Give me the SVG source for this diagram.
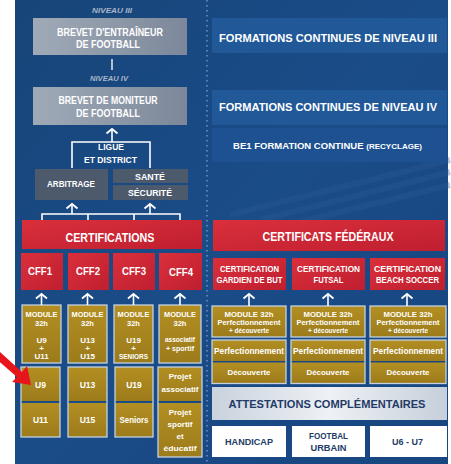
<svg xmlns="http://www.w3.org/2000/svg" width="451" height="464" viewBox="0 0 451 464">
<defs>
<linearGradient id="gPanel" x1="0" y1="0" x2="1" y2="1">
<stop offset="0" stop-color="#174579"/><stop offset="0.5" stop-color="#1a4c88"/><stop offset="1" stop-color="#174680"/>
</linearGradient>
<linearGradient id="gGrey" x1="0" y1="0" x2="1" y2="0">
<stop offset="0" stop-color="#a0aab7"/><stop offset="1" stop-color="#7c889a"/>
</linearGradient>
<linearGradient id="gRed" x1="0" y1="0" x2="1" y2="1">
<stop offset="0" stop-color="#da2f3b"/><stop offset="1" stop-color="#bf1f30"/>
</linearGradient>
<linearGradient id="gGold" x1="0" y1="0" x2="0" y2="1">
<stop offset="0" stop-color="#b38f22"/><stop offset="1" stop-color="#9c7b1b"/>
</linearGradient>
<linearGradient id="gAtt" x1="0" y1="0" x2="1" y2="0">
<stop offset="0" stop-color="#c9d2dd"/><stop offset="0.5" stop-color="#eef1f5"/><stop offset="1" stop-color="#c6cfda"/>
</linearGradient>
<marker id="up" markerUnits="userSpaceOnUse" viewBox="-7 -7 9 14" markerWidth="9" markerHeight="14" refX="0" refY="0" orient="auto">
<path d="M-4.5,-5.5 L0,0 L-4.5,5.5" fill="none" stroke="#ffffff" stroke-width="1.8"/>
</marker>
<style>
text{font-family:"Liberation Sans",Arial,sans-serif;font-weight:bold;text-anchor:middle;fill:#ffffff}
.lvl{font-style:italic;fill:#a9b6c9;font-size:8px}
.grey{fill:url(#gGrey)}
.dgrey{fill:#4c5a6c}
.red{fill:url(#gRed)}
.gold{fill:url(#gGold);stroke:#c3d1e3;stroke-width:1.3}
.cell{fill:url(#gGold)}
.frame{fill:none;stroke:#c3d1e3;stroke-width:1.3}
.blue{fill:#215898}
.wbox{fill:#ffffff}
.conn{fill:none;stroke:#ffffff;stroke-width:1.6}
.arr{fill:none;stroke:#ffffff;stroke-width:1.6;marker-end:url(#up)}
</style>
</defs>

<rect x="0" y="0" width="451" height="464" fill="#ffffff"/>
<rect x="15" y="0" width="433" height="464" fill="url(#gPanel)"/>
<path d="M230,215 L450,160 M260,220 L450,172 M300,222 L450,185" stroke="#2a5c99" stroke-width="6" opacity="0.35" fill="none"/>
<line x1="207" y1="0" x2="207" y2="464" stroke="#6a8fc0" stroke-width="1.6" stroke-dasharray="1.6 3.4"/>

<!-- left column -->
<g id="niv3-label"><text class="lvl" x="112" y="13" textLength="40" lengthAdjust="spacingAndGlyphs">NIVEAU III</text></g>
<g id="brevet-entraineur">
<rect class="grey" x="33" y="18" width="154" height="37"/>
<text x="110" y="36" font-size="10.5" textLength="106" lengthAdjust="spacingAndGlyphs">BREVET D'ENTRAÎNEUR</text>
<text x="108" y="48" font-size="10.5" textLength="64" lengthAdjust="spacingAndGlyphs">DE FOOTBALL</text>
</g>
<g id="niv4-label"><text class="lvl" x="109" y="81" textLength="38" lengthAdjust="spacingAndGlyphs">NIVEAU IV</text></g>
<g id="brevet-moniteur">
<rect class="grey" x="33" y="87" width="154" height="38"/>
<text x="108" y="104" font-size="10.5" textLength="99" lengthAdjust="spacingAndGlyphs">BREVET DE MONITEUR</text>
<text x="108" y="117" font-size="10.5" textLength="64" lengthAdjust="spacingAndGlyphs">DE FOOTBALL</text>
</g>
<g id="ligue">
<text x="111" y="150" font-size="9.5" textLength="26" lengthAdjust="spacingAndGlyphs">LIGUE</text>
<text x="110.5" y="163" font-size="9.5" textLength="53" lengthAdjust="spacingAndGlyphs">ET DISTRICT</text>
</g>
<g id="arbitrage">
<rect class="dgrey" x="35" y="169" width="73" height="31"/>
<text x="71" y="187" font-size="9" textLength="48" lengthAdjust="spacingAndGlyphs">ARBITRAGE</text>
</g>
<g id="sante">
<rect class="dgrey" x="113" y="169" width="75" height="14"/>
<text x="150" y="179.5" font-size="9" textLength="30" lengthAdjust="spacingAndGlyphs">SANTÉ</text>
</g>
<g id="securite">
<rect class="dgrey" x="113" y="185" width="75" height="15"/>
<text x="150" y="195.5" font-size="9" textLength="44" lengthAdjust="spacingAndGlyphs">SÉCURITÉ</text>
</g>
<g id="certifications">
<rect class="red" x="22" y="220" width="180" height="29"/>
<text x="110" y="242" font-size="12" textLength="89" lengthAdjust="spacingAndGlyphs">CERTIFICATIONS</text>
</g>
<g id="cff1"><rect class="red" x="21" y="253" width="42" height="37"/><text x="40" y="275" font-size="10" textLength="24" lengthAdjust="spacingAndGlyphs">CFF1</text></g>
<g id="cff2"><rect class="red" x="68" y="253" width="41" height="37"/><text x="88" y="275" font-size="10" textLength="24" lengthAdjust="spacingAndGlyphs">CFF2</text></g>
<g id="cff3"><rect class="red" x="113" y="253" width="42" height="37"/><text x="134" y="275" font-size="10" textLength="24" lengthAdjust="spacingAndGlyphs">CFF3</text></g>
<g id="cff4"><rect class="red" x="159" y="253" width="43" height="37"/><text x="181" y="276" font-size="10" textLength="24" lengthAdjust="spacingAndGlyphs">CFF4</text></g>

<g id="module1">
<rect class="gold" x="22" y="305" width="39" height="58"/>
<text x="41.5" y="317" font-size="7.5" textLength="32" lengthAdjust="spacingAndGlyphs">MODULE</text>
<text x="41.5" y="326" font-size="7.5">32h</text>
<text x="41.5" y="343" font-size="8">U9</text>
<text x="41.5" y="351" font-size="8">+</text>
<text x="41.5" y="359" font-size="8">U11</text>
</g>
<g id="module2">
<rect class="gold" x="68" y="305" width="39" height="58"/>
<text x="87.5" y="317" font-size="7.5" textLength="32" lengthAdjust="spacingAndGlyphs">MODULE</text>
<text x="87.5" y="326" font-size="7.5">32h</text>
<text x="87.5" y="343" font-size="8">U13</text>
<text x="87.5" y="351" font-size="8">+</text>
<text x="87.5" y="359" font-size="8">U15</text>
</g>
<g id="module3">
<rect class="gold" x="114" y="305" width="39" height="58"/>
<text x="133.5" y="317" font-size="7.5" textLength="32" lengthAdjust="spacingAndGlyphs">MODULE</text>
<text x="133.5" y="326" font-size="7.5">32h</text>
<text x="133.5" y="343" font-size="8">U19</text>
<text x="133.5" y="351" font-size="8">+</text>
<text x="133.5" y="359" font-size="7" textLength="29" lengthAdjust="spacingAndGlyphs">SENIORS</text>
</g>
<g id="module4">
<rect class="gold" x="159" y="305" width="42" height="58"/>
<text x="180" y="317" font-size="7.5" textLength="32" lengthAdjust="spacingAndGlyphs">MODULE</text>
<text x="180" y="326" font-size="7.5">32h</text>
<text x="180" y="342" font-size="6.5" font-weight="normal" textLength="30" lengthAdjust="spacingAndGlyphs">associatif</text>
<text x="180" y="351" font-size="6.5" font-weight="normal" textLength="28" lengthAdjust="spacingAndGlyphs">+ sportif</text>
</g>

<g id="u9-u11">
<rect class="cell" x="21" y="367" width="39" height="34"/>
<rect class="cell" x="21" y="403" width="39" height="34"/>
<rect class="frame" x="21" y="367" width="39" height="70"/>
<text x="40.5" y="388" font-size="8.5">U9</text>
<text x="40.5" y="423" font-size="8.5">U11</text>
</g>
<g id="u13-u15">
<rect class="cell" x="68" y="367" width="39" height="34"/>
<rect class="cell" x="68" y="403" width="39" height="34"/>
<rect class="frame" x="68" y="367" width="39" height="70"/>
<text x="87.5" y="388" font-size="8.5">U13</text>
<text x="87.5" y="423" font-size="8.5">U15</text>
</g>
<g id="u19-seniors">
<rect class="cell" x="115" y="367" width="38" height="34"/>
<rect class="cell" x="115" y="403" width="38" height="34"/>
<rect class="frame" x="115" y="367" width="38" height="70"/>
<text x="134" y="388" font-size="8.5">U19</text>
<text x="134" y="423" font-size="8.5" textLength="29" lengthAdjust="spacingAndGlyphs">Seniors</text>
</g>
<g id="projet">
<rect class="cell" x="158" y="367" width="44" height="34"/>
<rect class="cell" x="158" y="403" width="44" height="54"/>
<rect class="frame" x="158" y="367" width="44" height="90"/>
<text x="180" y="379" font-size="8">Projet</text>
<text x="180" y="392" font-size="8" textLength="37" lengthAdjust="spacingAndGlyphs">associatif</text>
<text x="180" y="415" font-size="8">Projet</text>
<text x="180" y="427" font-size="8">sportif</text>
<text x="180" y="439" font-size="8">et</text>
<text x="180" y="451" font-size="8" textLength="33" lengthAdjust="spacingAndGlyphs">éducatif</text>
</g>

<!-- right column -->
<g id="fc3">
<rect class="blue" x="212" y="18" width="235" height="35"/>
<text x="328" y="42" font-size="10.5" textLength="218" lengthAdjust="spacingAndGlyphs">FORMATIONS CONTINUES DE NIVEAU III</text>
</g>
<g id="fc4">
<rect class="blue" x="212" y="90" width="235" height="35"/>
<text x="328" y="111" font-size="10.5" textLength="218" lengthAdjust="spacingAndGlyphs">FORMATIONS CONTINUES DE NIVEAU IV</text>
</g>
<g id="be1">
<rect x="212" y="128" width="235" height="34" fill="#1d5191"/>
<text x="327.5" y="149" font-size="9.5" textLength="189" lengthAdjust="spacingAndGlyphs">BE1 FORMATION CONTINUE <tspan font-size="8">(RECYCLAGE)</tspan></text>
</g>
<g id="cert-federaux">
<rect class="red" x="213" y="220" width="232" height="31"/>
<text x="328" y="241" font-size="12" textLength="131" lengthAdjust="spacingAndGlyphs">CERTIFICATS FÉDÉRAUX</text>
</g>
<g id="cert-gardien">
<rect class="red" x="213" y="258" width="73" height="32"/>
<text x="249.5" y="272" font-size="8.5" textLength="59" lengthAdjust="spacingAndGlyphs">CERTIFICATION</text>
<text x="249.5" y="283" font-size="8.5" textLength="66" lengthAdjust="spacingAndGlyphs">GARDIEN DE BUT</text>
</g>
<g id="cert-futsal">
<rect class="red" x="292" y="258" width="73" height="32"/>
<text x="328.5" y="272" font-size="8.5" textLength="63" lengthAdjust="spacingAndGlyphs">CERTIFICATION</text>
<text x="328.5" y="283" font-size="8.5" textLength="30" lengthAdjust="spacingAndGlyphs">FUTSAL</text>
</g>
<g id="cert-beach">
<rect class="red" x="370" y="258" width="75" height="32"/>
<text x="407.5" y="272" font-size="8.5" textLength="67" lengthAdjust="spacingAndGlyphs">CERTIFICATION</text>
<text x="407.5" y="283" font-size="8.5" textLength="63" lengthAdjust="spacingAndGlyphs">BEACH SOCCER</text>
</g>

<g id="rmodule1">
<rect class="gold" x="212" y="306" width="74" height="31"/>
<text x="249" y="317" font-size="8" textLength="49" lengthAdjust="spacingAndGlyphs">MODULE 32h</text>
<text x="249" y="325" font-size="6.5" font-weight="normal" textLength="63" lengthAdjust="spacingAndGlyphs">Perfectionnement</text>
<text x="249" y="333" font-size="6.5" font-weight="normal" textLength="40" lengthAdjust="spacingAndGlyphs">+ découverte</text>
</g>
<g id="rmodule2">
<rect class="gold" x="291" y="306" width="74" height="31"/>
<text x="328" y="317" font-size="8" textLength="49" lengthAdjust="spacingAndGlyphs">MODULE 32h</text>
<text x="328" y="325" font-size="6.5" font-weight="normal" textLength="63" lengthAdjust="spacingAndGlyphs">Perfectionnement</text>
<text x="328" y="333" font-size="6.5" font-weight="normal" textLength="40" lengthAdjust="spacingAndGlyphs">+ découverte</text>
</g>
<g id="rmodule3">
<rect class="gold" x="370" y="306" width="76" height="31"/>
<text x="408" y="317" font-size="8" textLength="49" lengthAdjust="spacingAndGlyphs">MODULE 32h</text>
<text x="408" y="325" font-size="6.5" font-weight="normal" textLength="63" lengthAdjust="spacingAndGlyphs">Perfectionnement</text>
<text x="408" y="333" font-size="6.5" font-weight="normal" textLength="40" lengthAdjust="spacingAndGlyphs">+ découverte</text>
</g>

<g id="perf-dec1">
<rect class="cell" x="212" y="340" width="74" height="21"/>
<rect class="cell" x="212" y="362.5" width="74" height="21"/>
<rect class="frame" x="212" y="340" width="74" height="43.5"/>
<text x="249" y="354" font-size="8.5" font-weight="normal" textLength="70" lengthAdjust="spacingAndGlyphs">Perfectionnement</text>
<text x="249" y="375" font-size="8" font-weight="normal" textLength="43" lengthAdjust="spacingAndGlyphs">Découverte</text>
</g>
<g id="perf-dec2">
<rect class="cell" x="291" y="340" width="74" height="21"/>
<rect class="cell" x="291" y="362.5" width="74" height="21"/>
<rect class="frame" x="291" y="340" width="74" height="43.5"/>
<text x="328" y="354" font-size="8.5" font-weight="normal" textLength="70" lengthAdjust="spacingAndGlyphs">Perfectionnement</text>
<text x="328" y="375" font-size="8" font-weight="normal" textLength="43" lengthAdjust="spacingAndGlyphs">Découverte</text>
</g>
<g id="perf-dec3">
<rect class="cell" x="370" y="340" width="76" height="21"/>
<rect class="cell" x="370" y="362.5" width="76" height="21"/>
<rect class="frame" x="370" y="340" width="76" height="43.5"/>
<text x="408" y="354" font-size="8.5" font-weight="normal" textLength="70" lengthAdjust="spacingAndGlyphs">Perfectionnement</text>
<text x="408" y="375" font-size="8" font-weight="normal" textLength="43" lengthAdjust="spacingAndGlyphs">Découverte</text>
</g>

<g id="attestations">
<rect x="212" y="387" width="235" height="33" fill="url(#gAtt)"/>
<text x="327" y="408" font-size="11.5" textLength="197" lengthAdjust="spacingAndGlyphs" style="fill:#1f3b66">ATTESTATIONS COMPLÉMENTAIRES</text>
</g>
<g id="handicap">
<rect class="wbox" x="212" y="426" width="74" height="31"/>
<text x="249" y="445" font-size="8.5" textLength="48" lengthAdjust="spacingAndGlyphs" style="fill:#223d66">HANDICAP</text>
</g>
<g id="football-urbain">
<rect class="wbox" x="292" y="426" width="73" height="31"/>
<text x="328.5" y="439" font-size="8.5" textLength="39" lengthAdjust="spacingAndGlyphs" style="fill:#223d66">FOOTBAL</text>
<text x="328.5" y="451" font-size="8.5" textLength="36" lengthAdjust="spacingAndGlyphs" style="fill:#223d66">URBAIN</text>
</g>
<g id="u6-u7">
<rect class="wbox" x="370" y="426" width="77" height="31"/>
<text x="407.5" y="445" font-size="8.5" textLength="31" lengthAdjust="spacingAndGlyphs" style="fill:#223d66">U6 - U7</text>
</g>

<!-- connectors -->
<g id="connectors">
<line x1="112" y1="59" x2="112" y2="70" stroke="#c6cfdb" stroke-width="1.8"/>
<path class="conn" d="M72,168 V142 H150 V168"/>
<line class="arr" x1="112" y1="142" x2="112" y2="129"/>
<path class="conn" d="M42,220 V214 H180 V220 M88,214 V220 M134,214 V220"/>
<line class="arr" x1="72" y1="214" x2="72" y2="204"/>
<line class="arr" x1="150" y1="214" x2="150" y2="204"/>
<line class="arr" x1="41.5" y1="305" x2="41.5" y2="294"/>
<line class="arr" x1="87.5" y1="305" x2="87.5" y2="294"/>
<line class="arr" x1="133.5" y1="305" x2="133.5" y2="294"/>
<line class="arr" x1="180" y1="305" x2="180" y2="294"/>
<line class="arr" x1="249" y1="306" x2="249" y2="294"/>
<line class="arr" x1="328" y1="306" x2="328" y2="294"/>
<line class="arr" x1="407" y1="306" x2="407" y2="294"/>
</g>

<g id="pointer">
<polygon points="-6,357 -1,351 22,372 27,366 31,385 12,382 17,377" fill="#e8141c"/>
</g>
</svg>
